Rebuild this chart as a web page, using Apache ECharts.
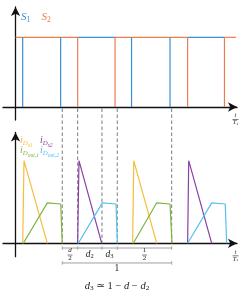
<!DOCTYPE html>
<html><head><meta charset="utf-8">
<script src="https://cdn.jsdelivr.net/npm/echarts@6/dist/echarts.min.js"></script>
<style>html,body{margin:0;padding:0;background:#fff}#c{width:244px;height:296px}</style>
</head><body><div id="c"></div>
<script>
// ---------- data (time in units of t/Ts) ----------
const s1Edges = [0.065, 0.41, 1.055, 1.405];
const s2Edges = [0.565, 0.905, 1.565, 1.9];
const gateSpan = [0, 2.005];
const s1HighSpans = [[0.565, 0.905], [1.565, 1.9]];
const iDs1 = [[[0.065,0],[0.077,1],[0.289,0]], [[1.065,0],[1.075,1],[1.284,0]]];
const iDs2 = [[[0.565,0],[0.577,1],[0.784,0]], [[1.565,0],[1.575,1],[1.784,0]]];
const iDout1 = [[[0.071,0],[0.289,0.49],[0.411,0.476],[0.425,0]], [[1.071,0],[1.284,0.49],[1.405,0.476],[1.423,0]]];
const iDout2 = [[[0.571,0],[0.789,0.49],[0.914,0.476],[0.926,0]], [[1.565,0],[1.784,0.49],[1.907,0.476],[1.92,0]]];
const dashTimes = [0.425, 0.565, 0.786, 0.925, 1.42];
const dimMarks = [0.425, 0.565, 0.786, 0.925, 1.42];
const dimLabels = ['d/2', 'd2', 'd3', '1/2'];
const periodLabel = '1';

// ---------- layout / style ----------
const SERIF = '"Liberation Serif","DejaVu Serif",serif';
const C = {s1:'#3a8fd4', s2:'#ee7b4e', ds1:'#f4be3c', ds2:'#8b40a3', do1:'#7db544', do2:'#52c2ee',
           dash:'#7a7a7a', dim:'#a0a0a0', axis:'#111', text:'#222'};
const DIM_ROW1 = -0.057, DIM_ROW2 = -0.238, DIM_TICK = 0.02, LBL_ROW1 = -0.136, LBL_ROW2 = -0.308;

const chart = echarts.init(document.getElementById('c'));

function seg(pts, color, gi, w, z) {
  return {type:'line', xAxisIndex:gi, yAxisIndex:gi, data:pts, symbol:'none', silent:true,
          animation:false, clip:false, z:z||3, lineStyle:{color:color, width:w||1.2}};
}
const axisLine = {onZero:true, symbol:['none','arrow'], symbolSize:[7,9], lineStyle:{color:C.axis, width:1.3}};
const axBase = {type:'value', axisTick:{show:false}, axisLabel:{show:false}, splitLine:{show:false}, axisLine:axisLine};

const series = [];
// top panel: gate signals (high level split into S2 / S1 coloured pieces)
let cur = gateSpan[0];
s1HighSpans.forEach(s => {
  series.push(seg([[cur,1],[s[0],1]], C.s2, 0));
  series.push(seg([[s[0],1],[s[1],1]], C.s1, 0));
  cur = s[1];
});
series.push(seg([[cur,1],[gateSpan[1],1]], C.s2, 0));
s1Edges.forEach(t => series.push(seg([[t,0],[t,1]], C.s1, 0)));
s2Edges.forEach(t => series.push(seg([[t,0],[t,1]], C.s2, 0)));
// bottom panel: diode currents
iDs1.forEach(p => series.push(seg(p, C.ds1, 1)));
iDs2.forEach(p => series.push(seg(p, C.ds2, 1)));
iDout1.forEach(p => series.push(seg(p, C.do1, 1)));
iDout2.forEach(p => series.push(seg(p, C.do2, 1)));
// dimension lines
const d0 = dimMarks[0], d1 = dimMarks[dimMarks.length-1];
series.push(seg([[d0,DIM_ROW1],[d1,DIM_ROW1]], C.dim, 1, 1));
dimMarks.forEach(t => series.push(seg([[t,DIM_ROW1+DIM_TICK],[t,DIM_ROW1-DIM_TICK]], C.dim, 1, 1)));
series.push(seg([[d0,DIM_ROW2],[d1,DIM_ROW2]], C.dim, 1, 1));
[d0, d1].forEach(t => series.push(seg([[t,DIM_ROW2+DIM_TICK],[t,DIM_ROW2-DIM_TICK]], C.dim, 1, 1)));

chart.setOption({
  animation:false,
  grid:[{left:3, right:7, top:7, height:113}, {left:3, right:7, top:132.5, height:124.2}],
  xAxis:[Object.assign({gridIndex:0, min:-0.114, max:2.014}, axBase),
         Object.assign({gridIndex:1, min:-0.114, max:2.014}, axBase)],
  yAxis:[Object.assign({gridIndex:0, min:-0.187, max:1.435}, axBase),
         Object.assign({gridIndex:1, min:-0.162, max:1.341}, axBase)],
  series:series
});

// ---------- text & overlay graphics ----------
function rt(parts, F, color) {
  const rich = {}; let text = '';
  parts.forEach((p, i) => {
    const t = p[0], lvl = p[1] || 0, it = p[2] !== false;
    const size = F * [1, 0.68, 0.56][lvl];
    const pad = [0, F*0.42, F*0.72][lvl];
    const name = 'k' + i;
    rich[name] = {fontSize:size, fontFamily:SERIF, fontStyle:it?'italic':'normal',
                  lineHeight:Math.ceil(size*1.15), padding:[pad,0,0,0], verticalAlign:'top', fill:color};
    text += '{' + name + '|' + t + '}';
  });
  return {text:text, rich:rich};
}
function txt(x, y, parts, F, color, align) {
  const r = rt(parts, F, color);
  return {type:'text', x:x, y:y, z:10, silent:true,
          style:{text:r.text, rich:r.rich, align:align||'center', verticalAlign:'middle', fill:color}};
}
function frac(cx, cy, num, den, F, color, w) {
  return [txt(cx, cy - F*0.5, num, F, color), txt(cx, cy + F*0.55, den, F, color),
          {type:'line', z:10, silent:true, shape:{x1:cx-w/2, y1:cy, x2:cx+w/2, y2:cy}, style:{stroke:color, lineWidth:0.6}}];
}
function parseLbl(s) {
  if (s.indexOf('/') >= 0) { const a = s.split('/'); return {frac:true, num:[[a[0],0,/[a-z]/.test(a[0])]], den:[[a[1],0,false]]}; }
  if (s.length === 2) return {frac:false, parts:[[s[0],0,true],[s[1],1,false]]};
  return {frac:false, parts:[[s,0,false]]};
}

const P0 = v => chart.convertToPixel({gridIndex:0}, v);
const P1 = v => chart.convertToPixel({gridIndex:1}, v);
const g = [];
dashTimes.forEach(t => {
  const a = P0([t,0]), b = P1([t,0]);
  g.push({type:'line', z:2, silent:true, shape:{x1:a[0], y1:a[1]+1.5, x2:b[0], y2:b[1]},
          style:{stroke:C.dash, lineWidth:1, lineDash:[3.5,2.5]}});
});
// dimension labels
for (let i = 0; i < dimLabels.length; i++) {
  const c = P1([(dimMarks[i]+dimMarks[i+1])/2, LBL_ROW1]);
  const L = parseLbl(dimLabels[i]);
  if (L.frac) frac(c[0], c[1] + 0.5, L.num, L.den, 7, C.text, 5).forEach(e => g.push(e));
  else g.push(txt(c[0], c[1], L.parts, 9.5, C.text));
}
const c2 = P1([(d0+d1)/2, LBL_ROW2]);
g.push(txt(c2[0], c2[1], [[periodLabel,0,false]], 9.5, C.text));
// formula
g.push(txt(c2[0], 287, [['d',0,true],['3',1,false],[' \u2243 1 \u2212 ',0,false],['d',0,true],[' \u2212 ',0,false],['d',0,true],['2',1,false]], 10.5, C.text));
// axis labels t/Ts
[P0([2.014,0]), P1([2.014,0])].forEach(p => {
  frac(p[0]-1.5, p[1]+12.5, [['t',0,true]], [['T',0,true],['s',1,true]], 6.5, C.text, 6).forEach(e => g.push(e));
});
// legends
g.push(txt(21, 18.5, [['S',0,true],['1',1,false]], 11, C.s1, 'left'));
g.push(txt(41.5, 18.5, [['S',0,true],['2',1,false]], 11, C.s2, 'left'));
g.push(txt(20, 141.5, [['i',0,true],['D',1,true],['s1',2,true]], 10, C.ds1, 'left'));
g.push(txt(40, 141.5, [['i',0,true],['D',1,true],['s2',2,true]], 10, C.ds2, 'left'));
g.push(txt(20, 151.5, [['i',0,true],['D',1,true],['out,1',2,true]], 10, C.do1, 'left'));
g.push(txt(40, 151.5, [['i',0,true],['D',1,true],['out,2',2,true]], 10, C.do2, 'left'));

chart.setOption({graphic:{elements:g}});
</script></body></html>
